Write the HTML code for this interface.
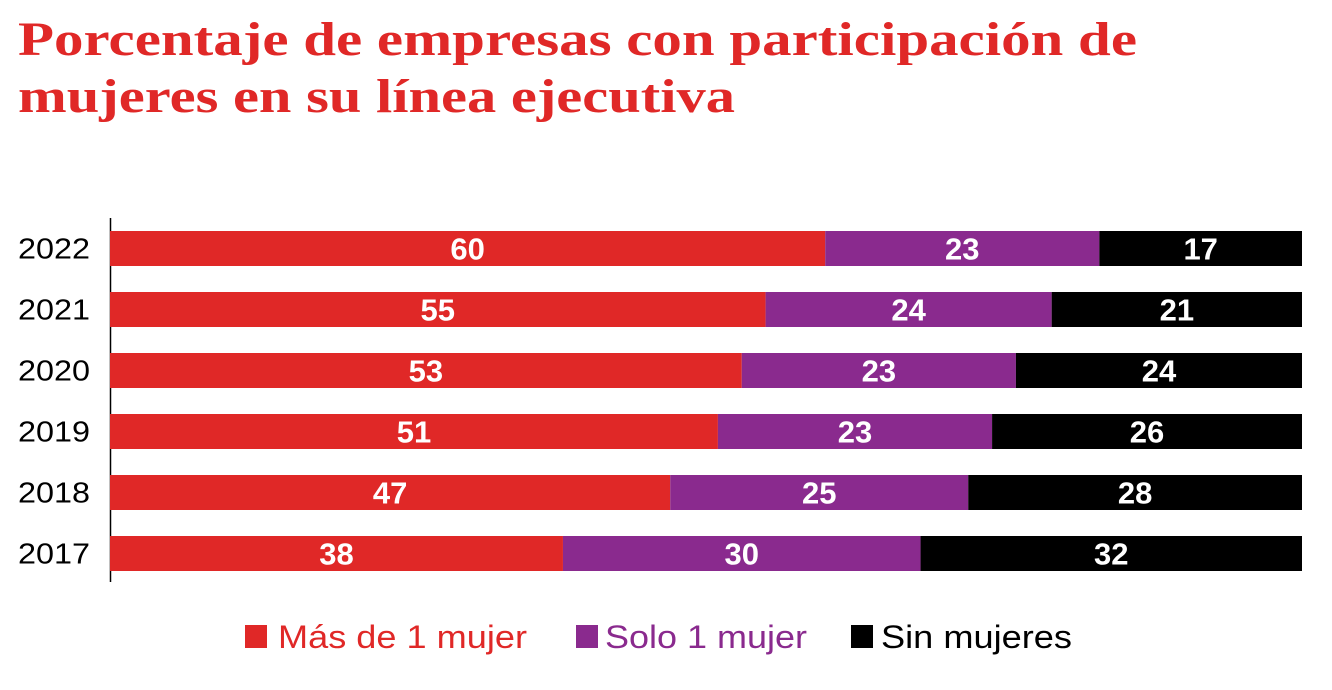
<!DOCTYPE html>
<html><head><meta charset="utf-8"><style>
html,body{margin:0;padding:0;background:#fff;width:1332px;height:690px;overflow:hidden}
svg{display:block}
</style></head><body>
<svg id="chart" width="1332" height="690" xmlns="http://www.w3.org/2000/svg">
<text x="18" y="55" font-family="Liberation Serif, serif" font-weight="bold" font-size="48" fill="#e02827" textLength="1119" lengthAdjust="spacingAndGlyphs">Porcentaje de empresas con participación de</text>
<text x="18" y="112" font-family="Liberation Serif, serif" font-weight="bold" font-size="48" fill="#e02827" textLength="717" lengthAdjust="spacingAndGlyphs">mujeres en su línea ejecutiva</text>
<line x1="110.5" y1="218" x2="110.5" y2="582" stroke="#000" stroke-width="1.5"/>
<g id="bars"></g>
<g font-family="Liberation Sans, sans-serif" font-size="32">
<rect x="245" y="625" width="22" height="23" fill="#e02827"/>
<text x="278" y="648" fill="#e02827" textLength="249" lengthAdjust="spacingAndGlyphs">Más de 1 mujer</text>
<rect x="576" y="625" width="22" height="23" fill="#8a2a8e"/>
<text x="605" y="648" fill="#8a2a8e" textLength="202" lengthAdjust="spacingAndGlyphs">Solo 1 mujer</text>
<rect x="851" y="625" width="22" height="23" fill="#000"/>
<text x="881" y="648" fill="#000" textLength="191" lengthAdjust="spacingAndGlyphs">Sin mujeres</text>
</g>
</svg>
<script>
const years = ["2022","2021","2020","2019","2018","2017"];
const masDe1 = [60,55,53,51,47,38];
const solo1 = [23,24,23,23,25,30];
const sinMujeres = [17,21,24,26,28,32];
const seriesColors = ["#e02827","#8a2a8e","#000000"];
const seriesNames = ["mas-de-1","solo-1","sin-mujeres"];

const NS="http://www.w3.org/2000/svg";
const x0=110, x1=1302, top0=231, pitch=61, bh=35;
const xScale=v=>x0+(v/100)*(x1-x0);
const g=document.getElementById("bars");
years.forEach((yr,i)=>{
  const y=top0+i*pitch;
  const t=document.createElementNS(NS,"text");
  
  
  t.setAttribute("x",18);t.setAttribute("y",y+bh/2+10);
  t.setAttribute("textLength","72");t.setAttribute("lengthAdjust","spacingAndGlyphs");
  t.setAttribute("font-family","Liberation Sans, sans-serif");
  t.setAttribute("font-size","29");t.textContent=yr;g.appendChild(t);
  const vals=[masDe1[i],solo1[i],sinMujeres[i]];
  let acc=0;
  vals.forEach((v,k)=>{
    const xa=xScale(acc), xb=xScale(acc+v);
    const r=document.createElementNS(NS,"rect");
    
    
    r.setAttribute("x",xa);r.setAttribute("y",y);r.setAttribute("width",xb-xa);r.setAttribute("height",bh);
    r.setAttribute("fill",seriesColors[k]);g.appendChild(r);
    const l=document.createElementNS(NS,"text");
    
    
    l.setAttribute("x",(xa+xb)/2);l.setAttribute("y",y+bh/2+11);
    l.setAttribute("text-anchor","middle");l.setAttribute("font-family","Liberation Sans, sans-serif");
    l.setAttribute("font-weight","bold");l.setAttribute("font-size","31");l.setAttribute("fill","#fff");
    l.textContent=v;g.appendChild(l);
    acc+=v;
  });
});
</script>
</body></html>
